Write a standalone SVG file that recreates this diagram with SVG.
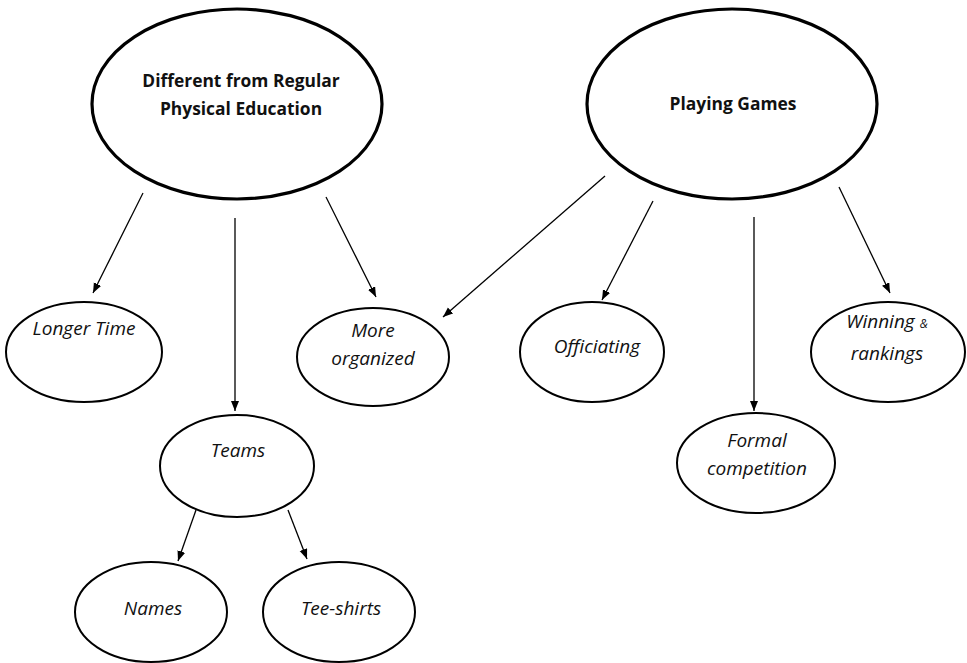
<svg xmlns="http://www.w3.org/2000/svg" width="967" height="663" viewBox="0 0 967 663">
<style>
.big{fill:#fff;stroke:#000;stroke-width:3.2}
.small{fill:#fff;stroke:#000;stroke-width:2}
.t{font-family:"Open Sans","Liberation Sans",sans-serif;font-size:19px;font-style:italic;fill:#111;text-anchor:middle}
.b{font-family:"Open Sans","Liberation Sans",sans-serif;font-size:17.4px;font-weight:bold;fill:#111;text-anchor:middle}
.amp{font-size:12px}
.c line{stroke:#000;stroke-width:1.3;marker-end:url(#ah)}
</style>
<defs>
<marker id="ah" markerUnits="userSpaceOnUse" markerWidth="12" markerHeight="10" refX="10" refY="4" orient="auto">
<path d="M0,0 L10,4 L0,8 z" fill="#000"/>
</marker>
</defs>
<rect width="967" height="663" fill="#fff"/>
<g class="c" id="connectors">
<line x1="143" y1="193" x2="93" y2="293"/>
<line x1="235" y1="218" x2="235" y2="411"/>
<line x1="326" y1="197" x2="376" y2="297"/>
<line x1="605" y1="176" x2="443" y2="317"/>
<line x1="653" y1="201" x2="602" y2="300"/>
<line x1="754" y1="217" x2="754" y2="411"/>
<line x1="839" y1="187" x2="890" y2="293"/>
<line x1="196" y1="510" x2="178" y2="561"/>
<line x1="288" y1="510" x2="307" y2="559"/>
</g>
<g id="n-different">
<ellipse class="big" cx="237" cy="104" rx="145" ry="95"/>
<text class="b" x="241" y="87">Different from Regular</text>
<text class="b" x="241" y="115">Physical Education</text>
</g>
<g id="n-playing">
<ellipse class="big" cx="732" cy="104" rx="145" ry="95"/>
<text class="b" x="733" y="110">Playing Games</text>
</g>
<g id="n-longer">
<ellipse class="small" cx="84" cy="352" rx="78" ry="50"/>
<text class="t" x="84" y="335">Longer Time</text>
</g>
<g id="n-more">
<ellipse class="small" cx="373" cy="357" rx="76" ry="49"/>
<text class="t" x="373" y="337">More</text>
<text class="t" x="373" y="365">organized</text>
</g>
<g id="n-officiating">
<ellipse class="small" cx="592" cy="352" rx="72" ry="50"/>
<text class="t" x="597" y="353">Officiating</text>
</g>
<g id="n-winning">
<ellipse class="small" cx="888" cy="352" rx="77" ry="50"/>
<text class="t" x="887" y="328">Winning <tspan class="amp">&amp;</tspan></text>
<text class="t" x="887" y="360">rankings</text>
</g>
<g id="n-formal">
<ellipse class="small" cx="756" cy="463" rx="79" ry="50"/>
<text class="t" x="757" y="447">Formal</text>
<text class="t" x="757" y="475">competition</text>
</g>
<g id="n-teams">
<ellipse class="small" cx="237" cy="466" rx="77" ry="51"/>
<text class="t" x="238" y="457">Teams</text>
</g>
<g id="n-names">
<ellipse class="small" cx="151" cy="612" rx="76" ry="50"/>
<text class="t" x="153" y="615">Names</text>
</g>
<g id="n-teeshirts">
<ellipse class="small" cx="339" cy="612" rx="76" ry="50"/>
<text class="t" x="341" y="615">Tee-shirts</text>
</g>
</svg>
